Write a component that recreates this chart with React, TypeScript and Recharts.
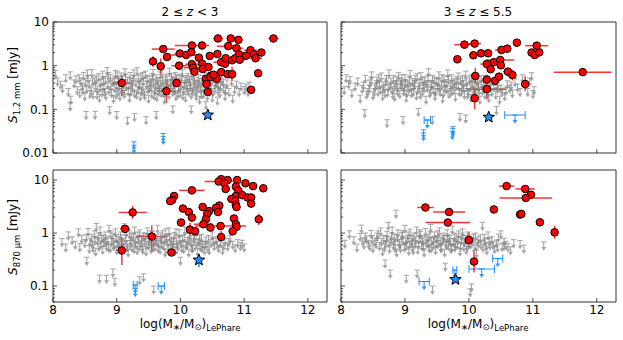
import React from 'react';
import { ScatterChart, Scatter, XAxis, YAxis, ErrorBar, ReferenceArea } from 'recharts';

// axis ticks
const X_TICKS = [8, 9, 10, 11, 12];
const Y_TICKS_TOP = [
  0.01, 0.02, 0.03, 0.04, 0.05, 0.06, 0.07, 0.08, 0.09,
  0.1, 0.2, 0.3, 0.4, 0.5, 0.6, 0.7, 0.8, 0.9,
  1, 2, 3, 4, 5, 6, 7, 8, 9, 10,
];
const Y_TICKS_BOTTOM = [
  0.05, 0.06, 0.07, 0.08, 0.09,
  0.1, 0.2, 0.3, 0.4, 0.5, 0.6, 0.7, 0.8, 0.9,
  1, 2, 3, 4, 5, 6, 7, 8, 9, 10,
];

// gray upper limits: [logM, flux]
const TL_LIM = [
  [8.04,0.78],[8.07,0.52],[8.12,0.44],[8.15,0.36],[8.2,0.62],[8.24,0.3],[8.27,0.72],[8.28,0.2],[8.27,0.14],[8.33,0.47],[8.36,0.58],[8.38,0.33],
  [8.42,0.28],[8.44,0.52],[8.46,0.4],[8.48,0.7],[8.5,0.24],[8.52,0.089],[8.53,0.35],[8.55,0.6],[8.57,0.45],[8.6,0.31],[8.61,0.82],[8.63,0.26],
  [8.65,0.55],[8.66,0.09],[8.67,0.4],[8.7,0.34],[8.72,0.66],[8.73,0.22],[8.75,0.48],[8.77,0.29],[8.78,0.75],[8.8,0.38],[8.82,0.56],[8.83,0.25],
  [8.85,0.9],[8.86,0.44],[8.88,0.33],[8.89,0.115],[8.9,0.62],[8.92,0.28],[8.94,0.5],[8.95,0.21],[8.97,0.37],[8.98,0.78],[9.0,0.089],[9.0,0.43],
  [9.02,0.3],[9.03,0.58],[9.05,0.24],[9.07,0.68],[9.08,0.35],[9.1,0.48],[9.12,0.27],[9.13,0.85],[9.15,0.4],[9.17,0.066],[9.17,0.55],[9.18,0.31],
  [9.2,0.22],[9.21,0.7],[9.23,0.45],[9.25,0.36],[9.26,0.6],[9.28,0.08],[9.28,0.28],[9.3,0.5],[9.32,0.9],[9.33,0.33],[9.35,0.42],[9.37,0.24],
  [9.38,0.65],[9.4,0.38],[9.42,0.52],[9.43,0.29],[9.45,0.75],[9.46,0.068],[9.47,0.44],[9.49,0.34],[9.5,0.21],[9.52,0.58],[9.53,0.4],[9.55,0.27],
  [9.57,0.82],[9.58,0.49],[9.6,0.32],[9.62,0.089],[9.62,0.62],[9.63,0.23],[9.65,0.43],[9.67,0.36],[9.68,0.72],[9.7,0.28],[9.72,0.53],[9.73,0.4],
  [9.75,0.2],[9.77,0.64],[9.78,0.33],[9.8,0.47],[9.82,0.26],[9.83,0.88],[9.85,0.38],[9.87,0.56],[9.88,0.12],[9.88,0.3],[9.9,0.43],[9.92,0.7],
  [9.93,0.24],[9.95,0.5],[9.97,0.35],[9.98,0.6],[10.0,0.28],[10.02,0.45],[10.03,0.8],[10.05,0.33],[10.07,0.55],[10.08,0.22],[10.1,0.4],[10.12,0.66],
  [10.13,0.3],[10.15,0.48],[10.17,0.12],[10.17,0.26],[10.18,0.75],[10.2,0.37],[10.22,0.55],[10.24,0.29],[10.26,0.44],[10.28,0.62],[10.3,0.2],[10.32,0.34],
  [10.34,0.5],[10.36,0.27],[10.38,0.7],[10.4,0.15],[10.41,0.4],[10.43,0.56],[10.45,0.3],[10.47,0.46],[10.5,0.22],[10.52,0.62],[10.54,0.35],[10.56,0.5],
  [10.58,0.19],[10.6,0.42],[10.62,0.28],[10.65,0.58],[10.68,0.36],[10.7,0.24],[10.73,0.47],[10.76,0.3],[10.8,0.52],[10.82,0.21],[10.85,0.34],[10.88,0.44],
  [10.92,0.3],[10.95,0.4],[11.0,0.33],[11.03,0.38],[11.06,0.3],[11.08,0.42],
  [8.41,0.62],[8.47,0.33],[8.51,0.5],[8.54,0.8],[8.58,0.27],[8.62,0.5],[8.68,0.6],[8.69,0.26],[8.74,0.38],[8.79,0.52],[8.81,0.3],[8.87,0.7],
  [8.91,0.4],[8.96,0.55],[8.99,0.26],[9.01,0.72],[9.04,0.4],[9.09,0.58],[9.11,0.32],[9.14,0.64],[9.19,0.42],[9.22,0.3],[9.24,0.52],[9.27,0.8],
  [9.31,0.26],[9.34,0.6],[9.36,0.44],[9.39,0.31],[9.41,0.7],[9.44,0.25],[9.48,0.6],[9.51,0.36],[9.54,0.47],[9.56,0.66],[9.59,0.25],[9.61,0.4],
  [9.64,0.53],[9.66,0.3],[9.69,0.46],[9.71,0.8],[9.74,0.29],[9.76,0.44],[9.79,0.58],[9.81,0.36],[9.84,0.47],[9.86,0.66],[9.89,0.52],[9.91,0.33],
  [9.94,0.62],[9.96,0.27],[9.99,0.4],[10.01,0.65],[10.04,0.25],[10.06,0.42],[10.09,0.6],[10.11,0.35],[10.14,0.58],[10.16,0.4],[10.19,0.31],[10.21,0.64],
  [10.23,0.45],[10.25,0.24],[10.27,0.36],[10.29,0.52],[10.31,0.42],[10.33,0.26],[10.35,0.6],[10.37,0.38],[10.39,0.48],[10.42,0.24],[10.44,0.66],[10.46,0.37],
  [10.49,0.55],[10.51,0.3],[10.55,0.44],[10.59,0.33],[10.63,0.4],[10.67,0.5],[10.71,0.32],
];
const TR_LIM = [
  [8.05,0.33],[8.08,0.62],[8.12,0.45],[8.14,0.56],[8.17,0.28],[8.22,0.4],[8.26,0.52],[8.3,0.21],[8.33,0.35],[8.37,0.098],[8.38,0.6],[8.42,0.3],
  [8.45,0.47],[8.48,0.72],[8.5,0.25],[8.53,0.38],[8.56,0.55],[8.58,0.3],[8.6,0.44],[8.63,0.68],[8.65,0.24],[8.67,0.36],[8.7,0.5],[8.72,0.058],
  [8.73,0.29],[8.75,0.8],[8.77,0.42],[8.8,0.33],[8.82,0.6],[8.84,0.23],[8.86,0.46],[8.88,0.37],[8.9,0.7],[8.92,0.27],[8.94,0.52],[8.96,0.4],
  [8.97,0.068],[8.98,0.31],[9.0,0.62],[9.02,0.22],[9.04,0.45],[9.06,0.35],[9.08,0.78],[9.1,0.28],[9.12,0.5],[9.14,0.4],[9.16,0.6],[9.18,0.25],
  [9.2,0.33],[9.21,0.105],[9.23,0.48],[9.25,0.7],[9.27,0.3],[9.29,0.42],[9.31,0.55],[9.33,0.2],[9.35,0.37],[9.37,0.85],[9.39,0.28],[9.41,0.46],
  [9.43,0.068],[9.43,0.6],[9.45,0.33],[9.47,0.24],[9.49,0.52],[9.51,0.4],[9.53,0.72],[9.55,0.3],[9.57,0.44],[9.59,0.21],[9.61,0.58],[9.63,0.35],
  [9.65,0.48],[9.67,0.8],[9.69,0.27],[9.71,0.4],[9.73,0.62],[9.75,0.32],[9.77,0.5],[9.79,0.23],[9.81,0.42],[9.83,0.68],[9.85,0.3],[9.86,0.08],
  [9.87,0.55],[9.89,0.37],[9.91,0.46],[9.93,0.26],[9.95,0.074],[9.95,0.75],[9.97,0.4],[9.99,0.3],[10.01,0.58],[10.03,0.22],[10.05,0.44],[10.07,0.34],
  [10.09,0.66],[10.11,0.27],[10.13,0.5],[10.15,0.38],[10.17,0.2],[10.19,0.6],[10.21,0.32],[10.23,0.45],[10.25,0.26],[10.27,0.55],[10.29,0.36],[10.31,0.22],
  [10.33,0.47],[10.36,0.3],[10.39,0.4],[10.42,0.26],[10.43,0.115],[10.45,0.35],[10.48,0.2],[10.52,0.3],[10.56,0.24],[10.6,0.45],[10.64,0.36],[10.68,0.28],
  [10.72,0.5],[10.76,0.38],[10.8,0.3],[10.84,0.62],[10.88,0.42],[10.92,0.3],[10.95,0.52],[10.98,0.69],[11.0,0.27],[11.02,0.33],
  [8.35,0.42],[8.4,0.26],[8.44,0.36],[8.47,0.55],[8.52,0.3],[8.55,0.45],[8.59,0.62],[8.62,0.34],[8.66,0.42],[8.69,0.28],[8.71,0.6],[8.74,0.38],
  [8.78,0.52],[8.81,0.26],[8.83,0.4],[8.87,0.56],[8.89,0.3],[8.93,0.44],[8.95,0.62],[8.99,0.36],[9.01,0.48],[9.03,0.28],[9.07,0.55],[9.09,0.38],
  [9.13,0.3],[9.15,0.46],[9.19,0.66],[9.22,0.4],[9.24,0.26],[9.28,0.55],[9.3,0.36],[9.34,0.46],[9.36,0.6],[9.4,0.32],[9.42,0.42],[9.46,0.55],
  [9.48,0.3],[9.52,0.5],[9.54,0.36],[9.58,0.62],[9.6,0.28],[9.62,0.45],[9.66,0.34],[9.68,0.58],[9.72,0.3],[9.74,0.46],[9.78,0.38],[9.8,0.56],
  [9.84,0.4],[9.88,0.3],[9.9,0.6],[9.92,0.36],[9.96,0.5],[9.98,0.26],[10.02,0.38],[10.04,0.62],[10.08,0.42],[10.1,0.3],[10.14,0.56],[10.16,0.32],
  [10.2,0.44],[10.24,0.36],[10.26,0.6],[10.3,0.28],[10.34,0.38],[10.38,0.52],[10.44,0.42],[10.5,0.36],[10.58,0.32],[10.66,0.42],
];
const BL_LIM = [
  [8.14,0.79],[8.2,0.62],[8.24,1.05],[8.3,0.85],[8.35,0.7],[8.4,1.2],[8.42,0.63],[8.45,0.9],[8.5,0.75],[8.53,0.35],[8.55,1.22],[8.57,0.58],
  [8.6,0.95],[8.62,0.7],[8.65,1.1],[8.67,0.52],[8.68,1.52],[8.7,0.82],[8.72,0.64],[8.73,0.16],[8.74,1.3],[8.76,0.9],[8.78,0.56],[8.8,0.76],
  [8.82,1.05],[8.84,0.16],[8.84,0.66],[8.86,0.88],[8.88,1.4],[8.9,0.6],[8.92,0.8],[8.94,0.21],[8.94,1.0],[8.96,0.7],[8.97,0.14],[8.98,1.2],
  [9.0,0.55],[9.02,0.86],[9.04,0.68],[9.06,1.05],[9.08,0.78],[9.1,0.6],[9.12,1.5],[9.14,0.9],[9.16,0.72],[9.18,0.5],[9.2,1.1],[9.22,0.82],
  [9.24,0.62],[9.26,0.95],[9.28,1.3],[9.3,0.7],[9.32,0.55],[9.34,0.88],[9.36,0.15],[9.36,1.15],[9.38,0.74],[9.4,0.62],[9.42,0.17],[9.42,1.0],
  [9.44,0.8],[9.46,0.52],[9.48,1.25],[9.5,0.68],[9.52,0.9],[9.54,0.58],[9.56,1.08],[9.58,0.1],[9.58,0.76],[9.6,0.64],[9.62,0.95],[9.64,1.4],
  [9.66,0.72],[9.68,0.56],[9.7,0.86],[9.72,1.1],[9.74,0.66],[9.76,0.5],[9.78,0.92],[9.8,0.76],[9.82,1.25],[9.84,0.6],[9.86,0.84],[9.88,0.7],
  [9.9,1.02],[9.92,0.54],[9.94,0.8],[9.96,0.64],[9.98,1.15],[10.0,0.35],[10.01,0.72],[10.03,0.9],[10.05,0.58],[10.07,1.3],[10.09,0.68],[10.11,0.82],
  [10.13,0.5],[10.15,1.0],[10.17,0.74],[10.19,0.6],[10.21,0.9],[10.23,0.66],[10.25,1.2],[10.27,0.52],[10.29,0.8],[10.31,0.64],[10.33,0.95],[10.35,0.7],
  [10.38,0.55],[10.4,0.84],[10.43,0.62],[10.45,0.55],[10.48,0.76],[10.5,1.05],[10.53,0.66],[10.56,0.85],[10.6,0.6],[10.63,0.74],[10.66,0.55],[10.7,0.8],
  [10.74,0.65],[10.78,0.9],[10.82,0.7],[10.86,0.6],[10.9,0.75],[10.94,0.66],[10.97,0.73],[11.0,0.62],
  [8.52,0.95],[8.58,0.8],[8.63,0.6],[8.66,0.86],[8.71,1.0],[8.75,0.7],[8.79,0.92],[8.83,0.8],[8.87,0.62],[8.91,1.1],[8.95,0.66],[8.99,0.92],
  [9.01,0.74],[9.05,0.6],[9.07,0.94],[9.11,0.8],[9.15,1.2],[9.17,0.62],[9.21,0.72],[9.23,1.0],[9.27,0.58],[9.29,0.84],[9.33,1.05],[9.35,0.64],
  [9.39,0.9],[9.41,0.56],[9.45,1.0],[9.47,0.7],[9.51,0.8],[9.53,1.1],[9.57,0.62],[9.59,0.9],[9.63,0.8],[9.65,0.6],[9.69,1.0],[9.71,0.7],
  [9.75,0.84],[9.77,1.2],[9.81,0.62],[9.83,0.95],[9.87,0.6],[9.89,0.8],[9.93,1.2],[9.95,0.7],[9.99,0.86],[10.02,0.6],[10.06,0.95],[10.1,0.7],
  [10.14,0.84],[10.18,0.6],[10.22,1.0],[10.26,0.76],[10.3,0.9],[10.34,0.6],[10.39,0.7],[10.44,0.9],[10.52,0.8],[10.58,0.7],[10.68,0.66],[10.76,0.78],
];
const BR_LIM = [
  [8.06,0.73],[8.13,1.1],[8.2,0.85],[8.25,0.62],[8.3,0.98],[8.32,1.41],[8.36,0.7],[8.4,0.88],[8.43,0.73],[8.47,1.12],[8.5,0.6],[8.53,0.8],
  [8.56,1.0],[8.6,0.66],[8.62,1.25],[8.65,0.52],[8.67,0.9],[8.69,0.31],[8.7,0.72],[8.72,1.08],[8.74,1.6],[8.76,0.58],[8.77,0.2],[8.78,0.85],
  [8.8,1.3],[8.82,0.68],[8.84,0.95],[8.86,2.7],[8.87,0.5],[8.89,1.15],[8.91,0.76],[8.93,0.6],[8.95,1.02],[8.97,0.84],[9.0,1.4],[9.02,0.16],
  [9.02,0.66],[9.04,0.9],[9.06,0.54],[9.08,1.18],[9.1,0.78],[9.12,0.62],[9.14,1.0],[9.16,0.72],[9.18,1.3],[9.19,0.2],[9.2,0.56],[9.22,0.88],
  [9.24,1.08],[9.26,0.66],[9.28,0.8],[9.3,0.5],[9.32,1.22],[9.34,0.74],[9.36,0.95],[9.38,0.6],[9.4,1.45],[9.42,0.82],[9.43,0.1],[9.44,0.68],
  [9.46,1.05],[9.48,0.55],[9.5,0.9],[9.52,0.72],[9.54,1.25],[9.56,0.62],[9.58,0.84],[9.6,1.0],[9.62,0.5],[9.63,0.27],[9.64,0.76],[9.66,1.15],
  [9.68,0.66],[9.7,0.9],[9.72,0.58],[9.74,1.35],[9.76,0.78],[9.78,0.62],[9.8,0.95],[9.82,0.7],[9.84,1.1],[9.86,0.52],[9.88,0.84],[9.9,1.2],
  [9.92,0.64],[9.94,0.9],[9.96,0.56],[9.98,1.05],[10.0,0.7],[10.02,0.089],[10.04,0.11],[10.05,0.82],[10.08,0.6],[10.1,1.0],[10.12,0.48],[10.15,0.75],
  [10.18,0.92],[10.21,1.6],[10.22,0.62],[10.25,0.8],[10.28,0.55],[10.3,1.05],[10.33,0.68],[10.36,0.85],[10.4,0.58],[10.43,0.74],[10.46,0.96],[10.5,1.1],
  [10.52,0.64],[10.55,0.8],[10.58,0.7],[10.61,0.63],[10.65,0.55],[10.7,0.75],[10.8,0.72],[10.86,0.59],[11.17,0.68],
  [8.34,0.82],[8.38,1.0],[8.45,0.66],[8.49,0.9],[8.55,0.72],[8.58,1.1],[8.63,0.8],[8.68,0.62],[8.71,0.9],[8.75,0.75],[8.79,1.0],[8.83,0.8],
  [8.85,0.6],[8.88,0.95],[8.92,0.7],[8.96,1.1],[8.99,0.62],[9.01,0.8],[9.05,1.05],[9.07,0.7],[9.11,0.9],[9.13,0.55],[9.17,0.85],[9.21,0.7],
  [9.23,1.15],[9.27,0.9],[9.29,0.64],[9.33,0.85],[9.37,0.72],[9.39,1.05],[9.41,0.6],[9.45,0.86],[9.49,0.74],[9.51,1.1],[9.55,0.8],[9.57,0.6],
  [9.61,0.9],[9.65,0.7],[9.67,0.95],[9.71,0.8],[9.73,0.62],[9.77,1.0],[9.79,0.7],[9.83,0.86],[9.87,0.66],[9.89,1.0],[9.93,0.78],[9.97,0.64],
  [9.99,0.9],[10.03,0.72],[10.07,0.95],[10.11,0.66],[10.14,0.85],[10.19,0.7],[10.24,0.95],[10.27,0.66],[10.32,0.8],[10.38,0.7],[10.45,0.62],[10.55,0.66],
];

// red detections: [logM, flux, xerr, yerrLow, yerrHigh]
const TL_DET = [
  [9.08,0.40,0.15,0.2,0.2],[9.57,1.25,0.05,0.3,0.4],[9.69,0.97,0.05,0.35,0.5],[9.73,2.4,0.18,0,0],[9.79,1.58,0,0,0],
  [9.78,0.26,0.15,0.12,0.15],[9.94,0.40,0.05,0,0],[9.98,1.0,0.12,0,0],[9.99,1.9,0.08,0,0],[10.09,1.76,0.25,0,0],
  [10.18,2.9,0.27,0,0],[10.34,2.9,0,0,0],[10.17,2.03,0.05,0,0],[10.18,1.08,0.1,0,0],[10.2,0.9,0.15,0,0],
  [10.22,0.73,0.05,0,0],[10.29,1.52,0,0,0],[10.34,1.11,0,0,0],[10.35,0.84,0.1,0,0],[10.44,0.93,0.05,0,0],
  [10.46,1.67,0,0,0],[10.48,0.59,0,0,0],[10.40,0.50,0,0,0],[10.41,0.38,0,0,0],[10.43,0.25,0,0,0],
  [10.57,0.50,0,0.15,0.2],[10.58,1.85,0,0,0],[10.59,4.2,0.08,0,0],[10.64,1.2,0.12,0,0],[10.64,0.71,0.1,0,0],
  [10.70,1.11,0,0,0],[10.71,1.48,0.08,0,0],[10.74,0.64,0.05,0,0],[10.75,2.8,0.18,0,0],[10.79,4.2,0,0,0],
  [10.81,1.33,0.05,0,0],[10.81,0.64,0.05,0.2,0.3],[10.86,1.48,0.1,0,0],[10.88,2.5,0.1,0,0],[10.91,3.9,0.05,0,0],
  [10.92,1.82,0,0,0],[10.93,1.37,0.08,0,0],[11.03,1.69,0,0,0],[11.10,2.25,0.1,0,0],[11.15,1.82,0,0,0],
  [11.18,1.48,0.1,0,0],[11.22,0.67,0,0,0],[11.11,0.28,0.05,0,0],[11.27,2.0,0,0,0],[11.46,4.2,0.08,0,0],
  [10.47,0.55,0.05,0,0],[10.52,0.62,0,0,0],
];
const TR_DET = [
  [9.93,3.03,0.16,0,0],[10.09,3.2,0.1,0,0],[10.75,3.36,0,0,0],[11.06,2.87,0.18,0,0],[10.98,1.99,0,0,0],
  [11.03,1.76,0,0,0],[11.1,2.02,0,0,0],[10.51,2.29,0.1,0,0],[10.6,2.45,0,0,0],[10.07,1.73,0,0,0],
  [10.19,1.92,0,0,0],[10.3,1.92,0,0,0],[9.82,1.40,0,0,0],[10.28,1.09,0.1,0,0],[10.39,1.2,0,0,0],
  [10.49,1.35,0.22,0,0],[10.34,0.83,0,0,0],[10.5,1.02,0,0,0],[10.61,0.73,0.08,0,0],[10.68,0.61,0,0.15,0.2],
  [10.10,0.58,0,0.2,0.3],[10.28,0.48,0.08,0,0],[10.41,0.45,0,0,0],[10.47,0.56,0.05,0,0],[10.88,0.38,0,0.12,0.2],
  [10.28,0.29,0.3,0.12,0.2],[10.09,0.18,0,0.08,0.12],[11.78,0.71,0.45,0,0],
];
const BL_DET = [
  [10.64,10.4,0,0,0],[10.74,10,0,0,0],[10.89,10,0,0,0],[10.60,9.4,0.22,0,0],[10.69,8.7,0,0,0],
  [11.02,8.7,0,0,0],[11.14,7.7,0,0,0],[11.30,7.0,0,0,0],[10.71,6.8,0,0,0],[10.87,7.5,0,0,0],
  [10.91,6.3,0,0,0],[10.18,6.4,0.2,0,0],[10.87,5.0,0,0,0],[10.97,5.2,0,0,0],[11.05,4.7,0,0,0],
  [11.11,4.7,0,0,0],[10.80,4.4,0,0,0],[10.86,4.1,0,0,0],[11.11,3.6,0,0,0],[10.87,3.4,0,0,0],
  [10.88,3.1,0,0,0],[9.90,5.0,0,0,0],[9.87,4.2,0,0,0],[9.84,4.0,0,0,0],[10.61,3.3,0,0,0],
  [10.35,3.1,0,0,0],[10.56,3.0,0.06,0,0],[10.04,2.9,0,0,0],[10.45,2.6,0,0,0],[10.13,2.5,0,0,0],
  [10.59,2.5,0,0,0],[10.42,2.3,0,0,0],[10.18,1.96,0,0,0],[10.40,1.82,0,0,0],[10.84,1.88,0,0,0],
  [10.01,1.58,0,0,0],[10.36,1.47,0.15,0,0],[10.87,1.47,0,0,0],[10.47,1.27,0,0,0],[10.63,1.36,0.4,0,0],
  [10.88,1.31,0,0,0],[10.15,1.16,0.05,0.3,0.4],[10.23,1.08,0,0,0],[10.82,1.08,0.05,0,0],[10.64,0.84,0,0.15,0.25],
  [11.23,1.82,0,0.4,0.5],[9.25,2.45,0.22,0.6,0.8],[9.13,1.2,0.08,0,0],[9.55,0.86,0.25,0.4,0.55],[9.08,0.47,0.1,0.22,0.3],
  [9.86,0.43,0.1,0,0],
];
const BR_DET = [
  [10.59,7.7,0.12,0,0],[10.88,6.8,0.15,0,0],[10.97,5.3,0,0,0],[10.89,4.6,0.41,0,0],[9.32,3.04,0.13,0,0],
  [9.69,2.5,0.25,0,0],[10.39,2.79,0.05,0,0],[10.8,2.24,0.05,0,0],[10.82,2.3,0,0,0],[11.11,1.6,0,0.25,0.3],
  [9.67,1.58,0.35,0,0],[11.34,1.03,0,0.25,0.35],[10.0,0.74,0.03,0.2,0.3],[10.08,0.29,0,0.11,0.15],
];

// blue upper limits: [logM, flux, xerr]
const TL_BLUE = [[9.27,0.018,0],[9.27,0.015,0],[9.73,0.028,0],[9.73,0.024,0]];
const TR_BLUE = [[9.35,0.057,0.05],[9.29,0.034,0],[9.29,0.029,0],[9.75,0.04,0],[9.74,0.031,0],[9.75,0.036,0],[10.72,0.074,0.16]];
const BL_BLUE = [[9.29,0.105,0.03],[9.29,0.09,0],[9.70,0.10,0.05]];
const BR_BLUE = [[9.3,0.122,0.08],[9.78,0.2,0.03],[10.2,0.21,0.2],[10.45,0.33,0.08]];

// blue stars: [logM, flux, yerrLow]
const TL_STAR = [[10.43,0.074,0]];
const TR_STAR = [[10.31,0.066,0]];
const BL_STAR = [[10.29,0.31,0.08]];
const BR_STAR = [[9.79,0.133,0.02]];

const RED = '#ff0000';
const BLUE = '#1e90ff';
const FONT = 'DejaVu Sans, sans-serif';

const toLim = (rows: number[][]) => rows.map(([x, y]) => ({ x, y }));
const toDet = (rows: number[][]) =>
  rows.map(([x, y, ex, lo, hi]) => ({ x, y, ex, ey: lo || hi ? [lo, hi] : 0 }));
const toBlue = (rows: number[][]) => rows.map(([x, y, ex]) => ({ x, y, ex }));
const toStar = (rows: number[][]) => rows.map(([x, y, lo]) => ({ x, y, ey: lo ? [lo, 0] : 0 }));

const makeLim = (color: string, op: number) => (p: any) => {
  const { cx, cy } = p;
  if (cx == null || cy == null) return <g />;
  return (
    <g opacity={op}>
      <line x1={cx - 2.7} x2={cx + 2.7} y1={cy} y2={cy} stroke={color} strokeWidth={1} />
      <line x1={cx} x2={cx} y1={cy} y2={cy + 6} stroke={color} strokeWidth={1.1} />
      <path d={`M${cx - 2.4},${cy + 5} L${cx + 2.4},${cy + 5} L${cx},${cy + 8.7} Z`} fill={color} />
    </g>
  );
};
const grayLim = makeLim('#808080', 0.7);
const blueLim = makeLim(BLUE, 0.9);

const redDot = (p: any) => {
  if (p.cx == null) return <g />;
  return <circle cx={p.cx} cy={p.cy} r={3.8} fill={RED} stroke="#000" strokeWidth={1} />;
};

const starShape = (p: any) => {
  const { cx, cy } = p;
  if (cx == null) return <g />;
  const pts: string[] = [];
  for (let i = 0; i < 10; i++) {
    const r = i % 2 === 0 ? 6 : 2.6;
    const a = -Math.PI / 2 + (i * Math.PI) / 5;
    pts.push(`${cx + r * Math.cos(a)},${cy + r * Math.sin(a)}`);
  }
  return <polygon points={pts.join(' ')} fill={BLUE} stroke="#000" strokeWidth={1} />;
};

const XTick = (p: any) => {
  const { x, y, payload, show } = p;
  const y0 = y - 5; // plot bottom
  return (
    <g>
      <line x1={x} x2={x} y1={y0} y2={y0 - 4} stroke="#222" strokeWidth={0.8} />
      {show && (
        <text x={x} y={y0 + 3} dy="0.71em" textAnchor="middle" fontSize={12} fontFamily={FONT} fill="#000">
          {payload.value}
        </text>
      )}
    </g>
  );
};

const YTick = (p: any) => {
  const { x, y, payload, show } = p;
  const v = payload.value;
  const lg = Math.log10(v);
  const major = Math.abs(lg - Math.round(lg)) < 1e-6;
  const x0 = x + 4; // plot left
  return (
    <g>
      <line x1={x0} x2={x0 + (major ? 4 : 2)} y1={y} y2={y} stroke="#222" strokeWidth={0.8} />
      {show && major && (
        <text x={x} y={y} dy="0.35em" textAnchor="end" fontSize={12} fontFamily={FONT} fill="#000">
          {String(v)}
        </text>
      )}
    </g>
  );
};

const PAD_L = 45;
const PAD_T = 6;
const PAD_R = 6;
const PAD_B = 20;

type PanelProps = {
  left: number;
  top: number;
  w: number;
  h: number;
  yDomain: [number, number];
  yTicks: number[];
  xLabels: boolean;
  yLabels: boolean;
  lims: number[][];
  dets: number[][];
  blues: number[][];
  stars: number[][];
};

const Panel = (p: PanelProps) => (
  <div style={{ position: 'absolute', left: p.left - PAD_L, top: p.top - PAD_T }}>
    <ScatterChart
      width={PAD_L + p.w + PAD_R}
      height={PAD_T + p.h + PAD_B}
      margin={{ top: PAD_T, right: PAD_R, bottom: 0, left: 0 }}
    >
      <XAxis
        type="number"
        dataKey="x"
        domain={[8, 12.3]}
        allowDataOverflow
        ticks={X_TICKS}
        interval={0}
        height={PAD_B}
        axisLine={false}
        tickLine={false}
        tickSize={0}
        tickMargin={5}
        tick={(t: any) => <XTick {...t} show={p.xLabels} />}
      />
      <YAxis
        type="number"
        dataKey="y"
        scale="log"
        domain={p.yDomain}
        allowDataOverflow
        ticks={p.yTicks}
        interval={0}
        width={PAD_L}
        axisLine={false}
        tickLine={false}
        tickSize={0}
        tickMargin={4}
        tick={(t: any) => <YTick {...t} show={p.yLabels} />}
      />
      <Scatter data={toLim(p.lims)} shape={grayLim} isAnimationActive={false} />
      <Scatter data={toBlue(p.blues)} shape={blueLim} isAnimationActive={false}>
        <ErrorBar dataKey="ex" direction="x" width={4} stroke={BLUE} strokeWidth={1} isAnimationActive={false} />
      </Scatter>
      <Scatter data={toStar(p.stars)} shape={starShape} isAnimationActive={false}>
        <ErrorBar dataKey="ey" direction="y" width={0} stroke={BLUE} strokeWidth={1.5} isAnimationActive={false} />
      </Scatter>
      <Scatter data={toDet(p.dets)} shape={redDot} isAnimationActive={false}>
        <ErrorBar dataKey="ex" direction="x" width={0} stroke={RED} strokeOpacity={0.8} strokeWidth={1.5} isAnimationActive={false} />
        <ErrorBar dataKey="ey" direction="y" width={0} stroke={RED} strokeOpacity={0.8} strokeWidth={1.5} isAnimationActive={false} />
      </Scatter>
      <ReferenceArea
        x1={8}
        x2={12.3}
        y1={p.yDomain[0]}
        y2={p.yDomain[1]}
        fill="none"
        fillOpacity={0}
        stroke="#333"
        strokeWidth={1}
      />
    </ScatterChart>
  </div>
);

const XLabel = ({ cx }: { cx: number }) => (
  <text x={cx} y={327.5} textAnchor="middle" fontSize={12} fontFamily={FONT}>
    log(M<tspan fontSize={8.5} dy={2}>∗</tspan>
    <tspan dy={-2}>/M</tspan>
    <tspan fontSize={8.5} dy={2}>⊙</tspan>
    <tspan dy={-2}>)</tspan>
    <tspan fontSize={8.5} dy={3}>LePhare</tspan>
  </text>
);

export default function App() {
  return (
    <div
      style={{
        position: 'absolute',
        left: 0,
        top: 0,
        width: 623,
        height: 340,
        background: '#fff',
        overflow: 'hidden',
        fontFamily: FONT,
      }}
    >
      <Panel left={53} top={22} w={274} h={131} yDomain={[0.01, 10]} yTicks={Y_TICKS_TOP}
        xLabels={false} yLabels={true} lims={TL_LIM} dets={TL_DET} blues={TL_BLUE} stars={TL_STAR} />
      <Panel left={341} top={22} w={275} h={131} yDomain={[0.01, 10]} yTicks={Y_TICKS_TOP}
        xLabels={false} yLabels={false} lims={TR_LIM} dets={TR_DET} blues={TR_BLUE} stars={TR_STAR} />
      <Panel left={53} top={170} w={274} h={132} yDomain={[0.05, 15.5]} yTicks={Y_TICKS_BOTTOM}
        xLabels={true} yLabels={true} lims={BL_LIM} dets={BL_DET} blues={BL_BLUE} stars={BL_STAR} />
      <Panel left={341} top={170} w={275} h={132} yDomain={[0.05, 15.5]} yTicks={Y_TICKS_BOTTOM}
        xLabels={true} yLabels={false} lims={BR_LIM} dets={BR_DET} blues={BR_BLUE} stars={BR_STAR} />
      <svg width={623} height={340} style={{ position: 'absolute', left: 0, top: 0, pointerEvents: 'none' }}>
        <text x={190} y={15.5} textAnchor="middle" fontSize={12} fontFamily={FONT}>
          2 ≤ <tspan fontStyle="italic">z</tspan> {'<'} 3
        </text>
        <text x={478} y={15.5} textAnchor="middle" fontSize={12} fontFamily={FONT}>
          3 ≤ <tspan fontStyle="italic">z</tspan> ≤ 5.5
        </text>
        <text transform="translate(17,85) rotate(-90)" textAnchor="middle" fontSize={12} fontFamily={FONT}>
          <tspan fontStyle="italic">S</tspan>
          <tspan fontSize={8.5} dy={3}>1.2 mm</tspan>
          <tspan dy={-3}> [mJy]</tspan>
        </text>
        <text transform="translate(17,237) rotate(-90)" textAnchor="middle" fontSize={12} fontFamily={FONT}>
          <tspan fontStyle="italic">S</tspan>
          <tspan fontSize={8.5} dy={3}>870 μm</tspan>
          <tspan dy={-3}> [mJy]</tspan>
        </text>
        <XLabel cx={190} />
        <XLabel cx={478} />
      </svg>
    </div>
  );
}
